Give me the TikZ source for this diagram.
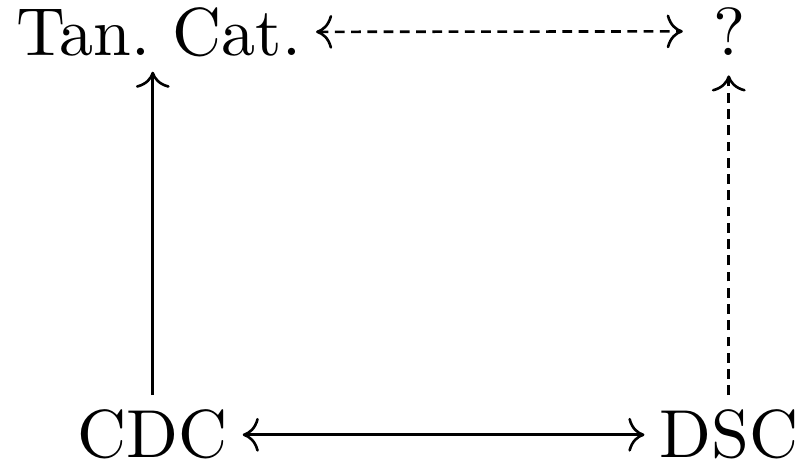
\documentclass[tikz,border=0pt]{standalone}
\usepackage{amsmath, amssymb}
\usepackage{tikz}
\usetikzlibrary{arrows.meta, positioning, calc}

\begin{document}
\begin{tikzpicture}[
   obj/.style={inner sep=2.1pt, anchor=base, font=\fontsize{10.45}{12}\selectfont},
   map/.style={->},
   conj/.style={->, dash pattern=on 1.5pt off 1pt}]
  \useasboundingbox (0,0) rectangle (122.6pt,72.6pt);
  \node[obj] (tan) at (24.4pt,64.1pt) {Tan.\ Cat.};
  \node[obj] (que) at (112.2pt,64.1pt) {?};
  \node[obj] (cdc) at (23.5pt,2.15pt) {CDC};
  \node[obj] (dsc) at (112.1pt,2.15pt) {DSC};

  \draw[conj, <->, shorten >=2.4pt] (tan) -- (que);
  \draw[map, <->] (cdc) -- (dsc);
  \draw[map] (cdc.north) -- (cdc.north |- tan.south);
  \draw[conj, shorten >=0.8pt] (dsc.north) -- (dsc.north |- que.south);
\end{tikzpicture}
\end{document}
